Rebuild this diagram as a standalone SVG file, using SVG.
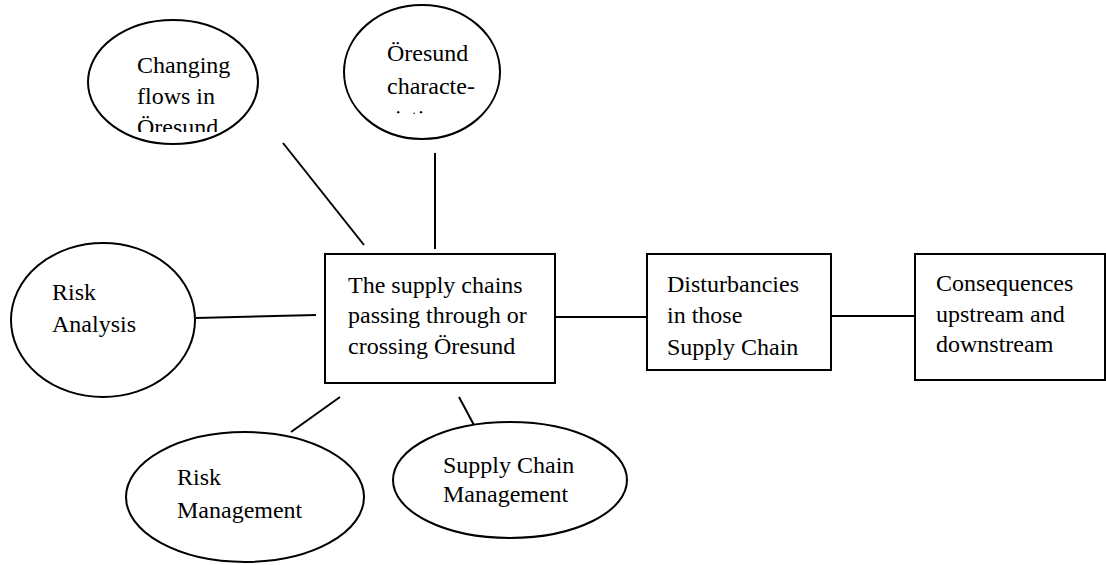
<svg xmlns="http://www.w3.org/2000/svg" width="1106" height="565" viewBox="0 0 1106 565">
<style>
.s{fill:none;stroke:#000;stroke-width:2}
.n{fill:#fff;stroke:#000;stroke-width:2}
text{font-family:"Liberation Serif","Times New Roman",serif;font-size:24px;fill:#000}
</style>
<defs>
<clipPath id="c1"><rect x="80" y="0" width="200" height="132"/></clipPath>
<clipPath id="c2"><rect x="340" y="0" width="170" height="114"/></clipPath>
</defs>
<rect width="1106" height="565" fill="#fff"/>
<g id="connectors">
<line class="s" x1="283" y1="143" x2="364" y2="245"/>
<line class="s" x1="435" y1="153" x2="435" y2="249"/>
<line class="s" x1="196" y1="318" x2="316" y2="315"/>
<line class="s" x1="340" y1="397" x2="291" y2="432"/>
<line class="s" x1="459" y1="397" x2="475" y2="427"/>
<line class="s" x1="555" y1="317" x2="647" y2="317"/>
<line class="s" x1="831" y1="316" x2="915" y2="316"/>
</g>
<g id="changing-flows">
<ellipse class="n" cx="173" cy="82" rx="85" ry="62"/>
<text clip-path="url(#c1)"><tspan x="137" y="73">Changing</tspan><tspan x="137" y="104">flows in</tspan><tspan x="137" y="135">Öresund</tspan></text>
</g>
<g id="oresund-characteristics">
<ellipse class="n" cx="422" cy="72" rx="78" ry="67"/>
<text clip-path="url(#c2)"><tspan x="387" y="61">Öresund</tspan><tspan x="387" y="94">characte-</tspan><tspan x="387" y="126">ristics</tspan></text>
</g>
<g id="risk-analysis">
<ellipse class="n" cx="103" cy="320" rx="92" ry="77"/>
<text><tspan x="52" y="300">Risk</tspan><tspan x="52" y="332">Analysis</tspan></text>
</g>
<g id="supply-chains">
<rect class="n" x="325" y="254" width="230" height="129"/>
<text><tspan x="348" y="293">The supply chains</tspan><tspan x="348" y="323">passing through or</tspan><tspan x="348" y="354">crossing Öresund</tspan></text>
</g>
<g id="disturbancies">
<rect class="n" x="647" y="254" width="184" height="116"/>
<text><tspan x="667" y="292">Disturbancies</tspan><tspan x="667" y="323">in those</tspan><tspan x="667" y="355">Supply Chain</tspan></text>
</g>
<g id="consequences">
<rect class="n" x="915" y="254" width="190" height="126"/>
<text><tspan x="936" y="291">Consequences</tspan><tspan x="936" y="322">upstream and</tspan><tspan x="936" y="352">downstream</tspan></text>
</g>
<g id="risk-management">
<ellipse class="n" cx="245" cy="497" rx="119" ry="65"/>
<text><tspan x="177" y="485">Risk</tspan><tspan x="177" y="518">Management</tspan></text>
</g>
<g id="supply-chain-management">
<ellipse class="n" cx="510" cy="480" rx="117" ry="58"/>
<text><tspan x="443" y="473">Supply Chain</tspan><tspan x="443" y="502">Management</tspan></text>
</g>
</svg>
